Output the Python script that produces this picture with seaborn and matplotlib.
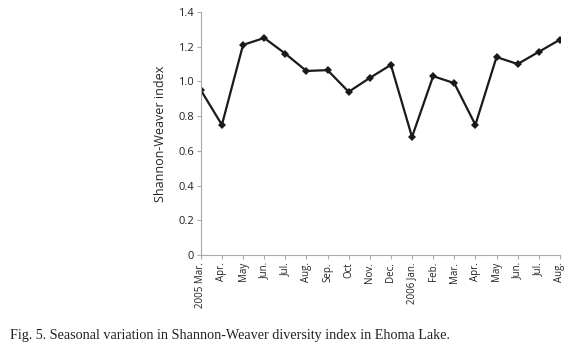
import numpy as np
import pandas as pd
import matplotlib
matplotlib.use("Agg")
import matplotlib.pyplot as plt
import seaborn as sns

months = ["2005 Mar.", "Apr.", "May", "Jun.", "Jul.", "Aug.", "Sep.", "Oct", "Nov.", "Dec.",
          "2006 Jan.", "Feb.", "Mar.", "Apr.", "May", "Jun.", "Jul.", "Aug."]
index_vals = [0.95, 0.75, 1.21, 1.25, 1.16, 1.06, 1.065, 0.94, 1.02, 1.095,
              0.68, 1.03, 0.99, 0.75, 1.14, 1.10, 1.17, 1.24]
yticks = [0, 0.2, 0.4, 0.6, 0.8, 1.0, 1.2, 1.4]
ytick_labels = ["0", "0.2", "0.4", "0.6", "0.8", "1.0", "1.2", "1.4"]

df = pd.DataFrame({"pos": np.arange(len(months)), "H": index_vals})

sns.set_style("ticks")
plt.rcParams["font.family"] = ["Open Sans", "DejaVu Sans"]

fig = plt.figure(figsize=(5.82, 3.5), dpi=100)
ax = fig.add_axes([0.345, 0.271, 0.617, 0.695])

sns.lineplot(data=df, x="pos", y="H", ax=ax, color="#1a1a1a", linewidth=1.6,
             marker="D", markersize=4.5, markeredgewidth=0)

ax.set_xlim(0, len(months) - 1)
ax.set_ylim(0, 1.4)
ax.set_xticks(df["pos"])
ax.set_xticklabels(months, rotation=90, fontsize=7, ha="center", va="top")
ax.set_yticks(yticks)
ax.set_yticklabels(ytick_labels, fontsize=8)
ax.set_xlabel("")
ax.set_ylabel("Shannon-Weaver index", fontsize=9, labelpad=8)
sns.despine(ax=ax)
for s in ["left", "bottom"]:
    ax.spines[s].set_color("#aaaaaa")
    ax.spines[s].set_linewidth(0.8)
ax.tick_params(colors="#aaaaaa", labelcolor="#222222", length=3, width=0.8, pad=2)

fig.text(0.017, 0.03, "Fig. 5. Seasonal variation in Shannon-Weaver diversity index in Ehoma Lake.",
         family=["Liberation Serif", "DejaVu Serif"], fontsize=10.2, color="#222222")

fig.savefig("out.png", dpi=100)
